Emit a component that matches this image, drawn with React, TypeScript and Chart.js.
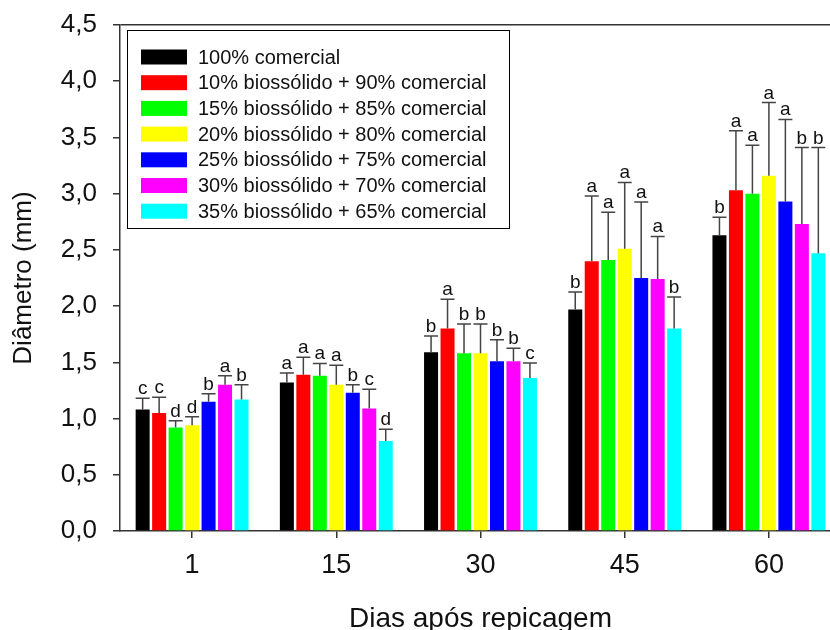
import React, { useEffect, useRef } from "react";
import { Chart, registerables } from "chart.js";

Chart.register(...registerables);

const categories = ["1", "15", "30", "45", "60"];
const seriesLabels = [
  "100% comercial",
  "10% biossólido + 90% comercial",
  "15% biossólido + 85% comercial",
  "20% biossólido + 80% comercial",
  "25% biossólido + 75% comercial",
  "30% biossólido + 70% comercial",
  "35% biossólido + 65% comercial",
];
const seriesColors = ["#000000", "#FF0000", "#00FF00", "#FFFF00", "#0000FF", "#FF00FF", "#00FFFF"];

const mean100 = [1.08, 1.32, 1.59, 1.97, 2.63];
const mean10 = [1.05, 1.39, 1.80, 2.40, 3.03];
const mean15 = [0.92, 1.38, 1.58, 2.41, 3.00];
const mean20 = [0.94, 1.30, 1.58, 2.51, 3.16];
const mean25 = [1.15, 1.23, 1.51, 2.25, 2.93];
const mean30 = [1.30, 1.09, 1.51, 2.24, 2.73];
const mean35 = [1.17, 0.80, 1.36, 1.80, 2.47];

const err100 = [0.10, 0.085, 0.145, 0.155, 0.16];
const err10 = [0.14, 0.155, 0.26, 0.58, 0.53];
const err15 = [0.06, 0.11, 0.26, 0.425, 0.43];
const err20 = [0.075, 0.175, 0.26, 0.59, 0.65];
const err25 = [0.07, 0.07, 0.19, 0.675, 0.73];
const err30 = [0.08, 0.17, 0.115, 0.38, 0.68];
const err35 = [0.13, 0.105, 0.135, 0.28, 0.94];

const let100 = ["c", "a", "b", "b", "b"];
const let10 = ["c", "a", "a", "a", "a"];
const let15 = ["d", "a", "b", "a", "a"];
const let20 = ["d", "a", "b", "a", "a"];
const let25 = ["b", "b", "b", "a", "a"];
const let30 = ["a", "c", "b", "a", "b"];
const let35 = ["b", "d", "c", "b", "b"];

const yTicks = [0, 0.5, 1, 1.5, 2, 2.5, 3, 3.5, 4, 4.5];

const allMeans = [mean100, mean10, mean15, mean20, mean25, mean30, mean35];
const allErrs = [err100, err10, err15, err20, err25, err30, err35];
const allLetters = [let100, let10, let15, let20, let25, let30, let35];

const FONT = "'Liberation Sans', Arial, Helvetica, sans-serif";
const AXIS = "#333333";

const errorBarPlugin = {
  id: "errorBars",
  afterDatasetsDraw(chart: any) {
    const ctx = chart.ctx;
    const yScale = chart.scales.y;
    ctx.save();
    chart.data.datasets.forEach((ds: any, di: number) => {
      const meta = chart.getDatasetMeta(di);
      meta.data.forEach((bar: any, i: number) => {
        const v = ds.data[i];
        const e = ds.errors[i];
        const yTop = yScale.getPixelForValue(v + e);
        const half = bar.width / 2;
        ctx.strokeStyle = "#444444";
        ctx.lineWidth = 1.5;
        ctx.beginPath();
        ctx.moveTo(bar.x, bar.y);
        ctx.lineTo(bar.x, yTop);
        ctx.moveTo(bar.x - half, yTop);
        ctx.lineTo(bar.x + half, yTop);
        ctx.stroke();
        ctx.fillStyle = "#111111";
        ctx.font = `19px ${FONT}`;
        ctx.textAlign = "center";
        ctx.textBaseline = "alphabetic";
        ctx.fillText(ds.letters[i], bar.x, yTop - 4);
      });
    });
    ctx.restore();
  },
};

const legendPlugin = {
  id: "boxLegend",
  afterDraw(chart: any) {
    const ctx = chart.ctx;
    ctx.save();
    ctx.strokeStyle = "#000000";
    ctx.lineWidth = 1;
    ctx.strokeRect(127.5, 30.5, 382, 198);
    ctx.font = `20px ${FONT}`;
    ctx.textAlign = "left";
    ctx.textBaseline = "middle";
    chart.data.datasets.forEach((ds: any, i: number) => {
      const cy = 57 + i * 25.7;
      ctx.fillStyle = ds.backgroundColor;
      ctx.fillRect(141, cy - 7.5, 46, 15);
      ctx.fillStyle = "#111111";
      ctx.fillText(ds.label, 198, cy + 1);
    });
    ctx.restore();
  },
};

export default function App() {
  const canvasRef = useRef<HTMLCanvasElement>(null);

  useEffect(() => {
    const canvas = canvasRef.current;
    if (!canvas) return;
    const chart = new Chart(canvas, {
      type: "bar",
      data: {
        labels: categories,
        datasets: seriesLabels.map((label, i) => ({
          label,
          data: allMeans[i],
          errors: allErrs[i],
          letters: allLetters[i],
          backgroundColor: seriesColors[i],
          borderWidth: 0,
          categoryPercentage: 0.8,
          barPercentage: 0.85,
        })) as any,
      },
      options: {
        responsive: false,
        animation: false,
        devicePixelRatio: 1,
        layout: { padding: { top: 25, right: 4, left: 0, bottom: 0 } },
        plugins: {
          legend: { display: false },
          tooltip: { enabled: false },
        },
        scales: {
          x: {
            offset: true,
            grid: {
              offset: false,
              drawOnChartArea: false,
              tickColor: AXIS,
              tickLength: 7,
              lineWidth: 1.5,
            },
            border: { display: true, color: AXIS, width: 1.5 },
            ticks: {
              color: "#111111",
              font: { family: FONT, size: 27 },
              padding: 11,
              maxRotation: 0,
            },
            title: {
              display: true,
              text: "Dias após repicagem",
              color: "#111111",
              font: { family: FONT, size: 28 },
              padding: { top: 0, bottom: 4 },
            },
            afterFit: (s: any) => {
              s.height = 109;
              s.paddingLeft = 0;
              s.paddingRight = 0;
            },
          },
          y: {
            min: 0,
            max: 4.5,
            afterBuildTicks: (s: any) => {
              s.ticks = yTicks.map((v) => ({ value: v }));
            },
            grid: {
              drawOnChartArea: true,
              color: (c: any) => (c.tick && c.tick.value === 4.5 ? AXIS : "rgba(0,0,0,0)"),
              tickColor: AXIS,
              tickLength: 7,
              lineWidth: 1.5,
            },
            border: { display: true, color: AXIS, width: 1.5 },
            ticks: {
              color: "#111111",
              font: { family: FONT, size: 26 },
              padding: 16,
              callback: (v: any) => Number(v).toFixed(1).replace(".", ","),
            },
            title: {
              display: true,
              text: "Diâmetro (mm)",
              color: "#111111",
              font: { family: FONT, size: 26 },
              padding: { top: 8, bottom: 0 },
            },
            afterFit: (s: any) => {
              s.width = 120;
              s.paddingTop = 0;
              s.paddingBottom = 0;
            },
          },
        },
      },
      plugins: [errorBarPlugin, legendPlugin],
    });
    return () => chart.destroy();
  }, []);

  return (
    <div
      style={{
        position: "fixed",
        left: 0,
        top: 0,
        width: 830,
        height: 630,
        overflow: "hidden",
        background: "#ffffff",
      }}
    >
      <canvas ref={canvasRef} width={845} height={640} style={{ width: 845, height: 640, display: "block" }} />
    </div>
  );
}
